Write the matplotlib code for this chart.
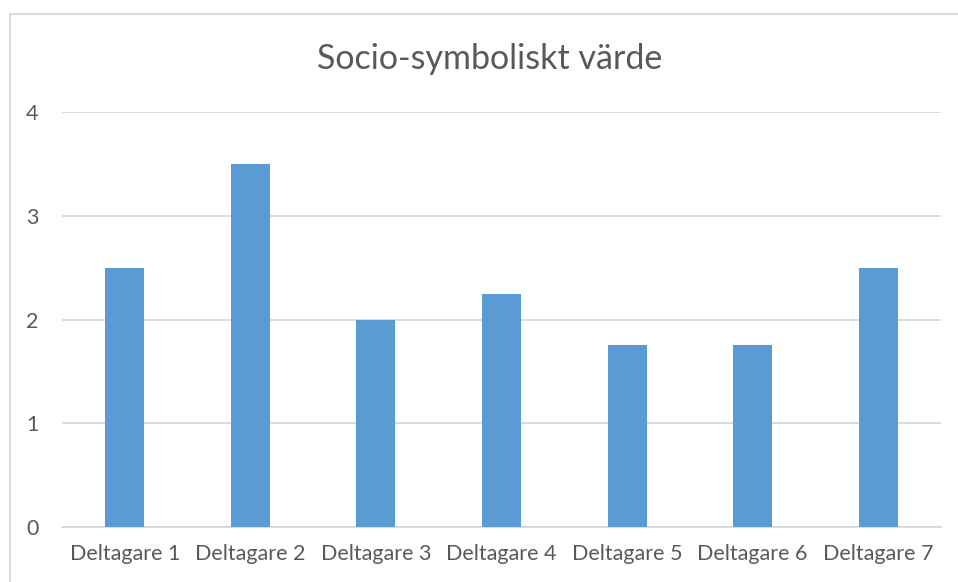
import matplotlib.pyplot as plt
from matplotlib.lines import Line2D

# Data:
categories = ["Deltagare 1", "Deltagare 2", "Deltagare 3", "Deltagare 4",
              "Deltagare 5", "Deltagare 6", "Deltagare 7"]
values = [2.5, 3.5, 2.0, 2.25, 1.75, 1.75, 2.5]
yticks = [0, 1, 2, 3, 4]

plt.rcParams['font.family'] = ['Lato', 'DejaVu Sans']
text_col = "#595959"
grid_col = "#D9D9D9"

fig = plt.figure(figsize=(9.58, 5.82), dpi=100)
ax = fig.add_axes([62/958, 1-527/582, (941-62)/958, (527-112)/582])

x = range(len(categories))
ax.bar(x, values, width=0.31, color="#5B9BD5", zorder=3)

ax.set_xlim(-0.5, len(categories)-0.5)
ax.set_ylim(0, 4)
ax.set_yticks(yticks)
ax.set_xticks(list(x))
ax.set_xticklabels(categories)
ax.yaxis.grid(True, color=grid_col, linewidth=1.3, zorder=0)
ax.tick_params(length=0, colors=text_col, labelsize=15.5)
ax.tick_params(axis='y', pad=17)
ax.tick_params(axis='x', pad=12)
for s in ["top", "right", "left"]:
    ax.spines[s].set_visible(False)
ax.spines["bottom"].set_color(grid_col)
ax.spines["bottom"].set_linewidth(1.3)

# Title:
fig.text(490/958, 1-59/582, "Socio-symboliskt värde", ha="center", va="center",
         fontsize=24.5, color=text_col)

# Chart border (left and top):
fig.add_artist(Line2D([10/958, 10/958], [0, 1-14/582], color=grid_col, linewidth=1.3))
fig.add_artist(Line2D([10/958, 1], [1-14/582, 1-14/582], color=grid_col, linewidth=1.3))

fig.savefig("out.png", dpi=100)
